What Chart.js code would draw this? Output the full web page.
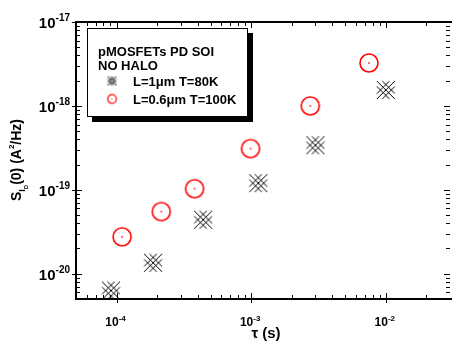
<!DOCTYPE html>
<html>
<head>
<meta charset="utf-8">
<script src="https://cdn.jsdelivr.net/npm/chart.js@4.4.0/dist/chart.umd.min.js"></script>
<style>
  html, body { margin: 0; padding: 0; background: #fff; overflow: hidden; }
  canvas { display: block; }
</style>
</head>
<body>
<canvas id="chart" width="452" height="347"></canvas>
<script>
// data
var tau80 = [9.1e-5, 1.87e-4, 4.4e-4, 1.13e-3, 3.0e-3, 1.0e-2];
var sid80 = [6.3e-21, 1.35e-20, 4.4e-20, 1.2e-19, 3.4e-19, 1.55e-18];
var tau100 = [1.1e-4, 2.15e-4, 3.8e-4, 9.9e-4, 2.75e-3, 7.5e-3];
var sid100 = [2.75e-20, 5.5e-20, 1.03e-19, 3.1e-19, 1.0e-18, 3.25e-18];
var xDecades = [-4, -3, -2];
var yDecades = [-20, -19, -18, -17];
var legendTitle = ['pMOSFETs PD SOI', 'NO HALO'];
var seriesNames = ['L=1\u03bcm T=80K', 'L=0.6\u03bcm T=100K'];

var FONT = '"Liberation Sans", Arial, sans-serif';

function crossMarker(h, lw) {
    var c = document.createElement('canvas');
    var s = Math.ceil(2 * h + 4);
    c.width = s; c.height = s;
    var ctx = c.getContext('2d');
    ctx.translate(s / 2, s / 2);
    ctx.strokeStyle = '#000';
    ctx.lineWidth = lw;
    var a = h * 0.6;
    [-a, 0, a].forEach(function(d) {
        ctx.beginPath();
        ctx.moveTo(Math.max(-h, -h - d), Math.max(-h, -h - d) + d);
        ctx.lineTo(Math.min(h, h - d), Math.min(h, h - d) + d);
        ctx.stroke();
        ctx.beginPath();
        var x0 = Math.max(-h, d - h), x1 = Math.min(h, d + h);
        ctx.moveTo(x0, -x0 + d);
        ctx.lineTo(x1, -x1 + d);
        ctx.stroke();
    });
    return c;
}

function circleMarker(r, lw, dot) {
    var c = document.createElement('canvas');
    var s = Math.ceil(2 * r + 4);
    c.width = s; c.height = s;
    var ctx = c.getContext('2d');
    ctx.strokeStyle = '#f00';
    ctx.fillStyle = '#f00';
    ctx.lineWidth = lw;
    ctx.beginPath();
    ctx.arc(s / 2, s / 2, r, 0, Math.PI * 2);
    ctx.stroke();
    ctx.fillRect(s / 2 - dot / 2, s / 2 - dot / 2, dot, dot);
    return c;
}

var bigCross = crossMarker(9, 1);
var bigCircle = circleMarker(9, 1.6, 1.5);
var smallCross = crossMarker(4.5, 0.9);
var smallCircle = circleMarker(4.3, 1.2, 1);

function toPoints(xs, ys) {
    return xs.map(function(x, i) { return {x: x, y: ys[i]}; });
}

function drawPow(ctx, x, y, exp, big, small, align) {
    ctx.font = 'bold ' + big + 'px ' + FONT;
    var w1 = ctx.measureText('10').width;
    ctx.font = 'bold ' + small + 'px ' + FONT;
    var w2 = ctx.measureText(String(exp)).width;
    var x0 = align === 'right' ? x - w1 - w2 : x - (w1 + w2) / 2;
    ctx.textAlign = 'left';
    ctx.textBaseline = 'alphabetic';
    ctx.font = 'bold ' + big + 'px ' + FONT;
    ctx.fillText('10', x0, y);
    ctx.font = 'bold ' + small + 'px ' + FONT;
    ctx.fillText(String(exp), x0 + w1, y - big * 0.45);
}

var framePlugin = {
    id: 'frame',
    afterDraw: function(chart) {
        var ctx = chart.ctx;
        var a = chart.chartArea;
        var xs = chart.scales.x, ys = chart.scales.y;
        ctx.save();
        ctx.strokeStyle = '#000';
        ctx.fillStyle = '#000';

        // ticks, pointing inward (decades also poke out a little)
        ctx.lineWidth = 1;
        for (var e = -6; e <= -1; e++) {
            for (var m = 1; m <= 9; m++) {
                var v = m * Math.pow(10, e);
                if (v < xs.min || v > xs.max) continue;
                var px = Math.round(xs.getPixelForValue(v)) + 0.5;
                var len = m === 1 ? 6 : 4;
                ctx.beginPath();
                ctx.moveTo(px, a.bottom + (m === 1 ? 4 : 0));
                ctx.lineTo(px, a.bottom - len);
                ctx.moveTo(px, a.top);
                ctx.lineTo(px, a.top + len);
                ctx.stroke();
            }
        }
        // right axis sits just past the edge of the picture
        var rightAxis = a.right + 3;
        for (var e2 = -22; e2 <= -16; e2++) {
            for (var m2 = 1; m2 <= 9; m2++) {
                var v2 = m2 * Math.pow(10, e2);
                if (v2 < ys.min || v2 > ys.max) continue;
                var py = Math.round(ys.getPixelForValue(v2)) + 0.5;
                var len2 = m2 === 1 ? 6 : 4;
                ctx.beginPath();
                ctx.moveTo(a.left - (m2 === 1 ? 4 : 0), py);
                ctx.lineTo(a.left + len2, py);
                ctx.moveTo(rightAxis, py);
                ctx.lineTo(rightAxis - len2, py);
                ctx.stroke();
            }
        }

        // frame: left, top, bottom
        ctx.lineWidth = 2;
        ctx.beginPath();
        ctx.moveTo(a.right + 5, a.top);
        ctx.lineTo(a.left, a.top);
        ctx.lineTo(a.left, a.bottom);
        ctx.lineTo(a.right + 5, a.bottom);
        ctx.stroke();

        // tick labels
        xDecades.forEach(function(d) {
            var px = xs.getPixelForValue(Math.pow(10, d));
            drawPow(ctx, px - 1, a.bottom + 27, d, 12, 8, 'center');
        });
        yDecades.forEach(function(d) {
            var py = ys.getPixelForValue(Math.pow(10, d));
            drawPow(ctx, a.left - 6, py + 6, d, 15, 10, 'right');
        });

        // x title
        ctx.font = 'bold 15px ' + FONT;
        ctx.textAlign = 'center';
        ctx.fillText('\u03c4 (s)', 266, 338);

        // y title
        ctx.save();
        ctx.translate(21, 160);
        ctx.rotate(-Math.PI / 2);
        var parts = [
            {t: 'S', s: 14, dy: 0},
            {t: 'I', s: 9, dy: 4},
            {t: 'D', s: 6, dy: 7},
            {t: '(0) (A', s: 14, dy: 0},
            {t: '2', s: 8, dy: -7},
            {t: '/Hz)', s: 14, dy: 0}
        ];
        var total = 0;
        parts.forEach(function(p) {
            ctx.font = 'bold ' + p.s + 'px ' + FONT;
            p.w = ctx.measureText(p.t).width;
            total += p.w;
        });
        var cx = -total / 2;
        ctx.textAlign = 'left';
        parts.forEach(function(p) {
            ctx.font = 'bold ' + p.s + 'px ' + FONT;
            ctx.fillText(p.t, cx, p.dy);
            cx += p.w;
        });
        ctx.restore();

        // legend box with shadow
        ctx.fillStyle = '#000';
        ctx.fillRect(92, 33, 161, 89);
        ctx.fillStyle = '#fff';
        ctx.fillRect(87, 28, 161, 89);
        ctx.lineWidth = 1;
        ctx.strokeRect(87.5, 28.5, 160, 88);
        ctx.fillStyle = '#000';
        ctx.font = 'bold 13px ' + FONT;
        ctx.textAlign = 'left';
        ctx.fillText(legendTitle[0], 98, 56);
        ctx.fillText(legendTitle[1], 98, 70);
        ctx.drawImage(smallCross, 112 - smallCross.width / 2, 81 - smallCross.height / 2);
        ctx.fillText(seriesNames[0], 133, 86);
        ctx.drawImage(smallCircle, 112 - smallCircle.width / 2, 99 - smallCircle.height / 2);
        ctx.fillText(seriesNames[1], 133, 104);
        ctx.restore();
    }
};

new Chart(document.getElementById('chart'), {
    type: 'scatter',
    data: {
        datasets: [{
            label: seriesNames[0],
            data: toPoints(tau80, sid80),
            pointStyle: bigCross,
            clip: false
        }, {
            label: seriesNames[1],
            data: toPoints(tau100, sid100),
            pointStyle: bigCircle,
            clip: false
        }]
    },
    options: {
        responsive: false,
        animation: false,
        layout: {padding: {left: 76, top: 22, right: 0, bottom: 48}},
        plugins: {legend: {display: false}, tooltip: {enabled: false}},
        scales: {
            x: {type: 'logarithmic', min: 5e-5, max: 2.85e-2, display: false},
            y: {type: 'logarithmic', min: 5e-21, max: 1e-17, display: false}
        }
    },
    plugins: [framePlugin]
});
</script>
</body>
</html>
